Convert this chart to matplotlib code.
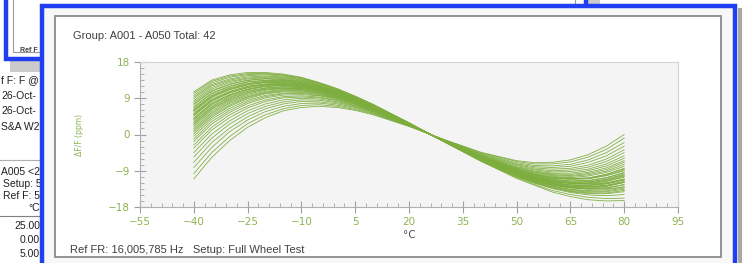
import matplotlib.pyplot as plt
from matplotlib.patches import Rectangle
from matplotlib.ticker import FixedLocator, AutoMinorLocator

# temperature points (deg C) shared by every part curve
temp_c = [-40, -35, -30, -25, -20, -15, -10, -5, 0, 5, 10, 20, 30, 40, 50, 55, 60, 65, 70, 75, 80]

# frequency deviation (ppm) of the 42 parts
ppm_curves = [
    [-11.0, -5.7, -1.5, 1.8, 4.2, 5.9, 6.7, 7.0, 6.7, 6.0, 4.9, 2.0, -1.3, -4.4, -6.5, -7.0, -6.9, -6.3, -5.0, -2.9, 0.0],
    [-9.7, -4.5, -0.5, 2.7, 4.9, 6.4, 7.2, 7.4, 7.0, 6.2, 5.1, 2.1, -1.4, -4.5, -6.7, -7.3, -7.3, -6.8, -5.6, -3.7, -0.9],
    [-8.2, -3.2, 0.7, 3.6, 5.7, 7.0, 7.7, 7.8, 7.3, 6.5, 5.3, 2.1, -1.4, -4.7, -7.0, -7.7, -7.8, -7.4, -6.3, -4.5, -2.0],
    [-6.9, -2.0, 1.6, 4.4, 6.4, 7.6, 8.2, 8.1, 7.6, 6.7, 5.4, 2.2, -1.5, -4.8, -7.3, -8.0, -8.2, -7.9, -6.9, -5.3, -2.9],
    [-5.6, -0.9, 2.6, 5.2, 7.0, 8.1, 8.6, 8.5, 7.9, 6.9, 5.6, 2.2, -1.5, -5.0, -7.5, -8.3, -8.6, -8.4, -7.6, -6.1, -3.8],
    [-4.5, 0.1, 3.4, 5.9, 7.6, 8.6, 9.0, 8.8, 8.1, 7.1, 5.7, 2.3, -1.5, -5.1, -7.7, -8.6, -9.0, -8.8, -8.1, -6.7, -4.5],
    [-3.4, 1.1, 4.2, 6.6, 8.2, 9.1, 9.3, 9.1, 8.4, 7.2, 5.8, 2.3, -1.5, -5.2, -8.0, -8.8, -9.3, -9.2, -8.6, -7.3, -5.3],
    [-2.6, 1.8, 4.9, 7.1, 8.6, 9.4, 9.6, 9.3, 8.5, 7.4, 5.9, 2.4, -1.6, -5.3, -8.1, -9.1, -9.6, -9.6, -9.0, -7.8, -5.9],
    [-1.7, 2.6, 5.5, 7.7, 9.1, 9.8, 9.9, 9.6, 8.7, 7.5, 6.0, 2.4, -1.6, -5.4, -8.3, -9.3, -9.8, -9.9, -9.4, -8.3, -6.5],
    [-1.1, 3.2, 6.0, 8.1, 9.4, 10.1, 10.2, 9.7, 8.9, 7.6, 6.1, 2.4, -1.6, -5.4, -8.4, -9.4, -10.0, -10.2, -9.7, -8.7, -6.9],
    [-0.4, 3.8, 6.5, 8.5, 9.7, 10.3, 10.4, 9.9, 9.0, 7.7, 6.2, 2.4, -1.6, -5.5, -8.5, -9.6, -10.2, -10.4, -10.0, -9.1, -7.4],
    [0.2, 4.3, 7.0, 8.9, 10.1, 10.6, 10.6, 10.1, 9.1, 7.8, 6.2, 2.5, -1.6, -5.5, -8.7, -9.8, -10.4, -10.7, -10.3, -9.4, -7.9],
    [0.7, 4.7, 7.3, 9.2, 10.3, 10.8, 10.8, 10.2, 9.2, 7.9, 6.3, 2.5, -1.6, -5.6, -8.7, -9.9, -10.6, -10.8, -10.9, -10.2, -9.0],
    [1.1, 5.1, 7.7, 9.4, 10.5, 11.0, 10.9, 10.3, 9.3, 8.0, 6.3, 2.5, -1.7, -5.6, -8.8, -10.0, -10.7, -11.0, -10.8, -9.9, -8.5],
    [1.5, 5.5, 8.0, 9.7, 10.7, 11.2, 11.1, 10.4, 9.4, 8.0, 6.4, 2.5, -1.7, -5.7, -8.9, -10.1, -10.9, -11.2, -11.0, -10.2, -8.8],
    [2.0, 5.9, 8.3, 10.0, 11.0, 11.4, 11.2, 10.6, 9.5, 8.1, 6.4, 2.5, -1.7, -5.7, -9.0, -10.0, -10.8, -11.0, -10.8, -9.9, -8.4],
    [2.4, 6.3, 8.6, 10.3, 11.2, 11.5, 11.4, 10.7, 9.6, 8.2, 6.5, 2.6, -1.7, -5.8, -9.1, -10.3, -11.1, -11.5, -11.4, -10.7, -9.4],
    [2.6, 6.5, 8.8, 10.4, 11.3, 11.6, 11.4, 10.7, 9.6, 8.2, 6.5, 2.6, -1.7, -5.8, -9.1, -10.3, -11.2, -11.6, -11.5, -10.8, -9.5],
    [3.0, 6.8, 9.1, 10.7, 11.5, 11.8, 11.6, 10.9, 9.7, 8.3, 6.6, 2.6, -1.7, -5.8, -9.2, -10.5, -11.3, -11.8, -11.7, -11.1, -9.8],
    [3.3, 7.0, 9.3, 10.8, 11.6, 11.9, 11.7, 10.9, 9.8, 8.3, 6.6, 2.6, -1.7, -5.9, -9.2, -10.5, -11.4, -11.9, -11.8, -11.2, -10.0],
    [3.7, 7.4, 9.6, 11.1, 11.9, 12.1, 11.8, 11.0, 9.9, 8.4, 6.6, 2.6, -1.7, -5.9, -9.3, -10.6, -11.6, -12.1, -12.3, -12.0, -11.2],
    [3.9, 7.6, 9.8, 11.2, 12.0, 12.2, 11.9, 11.1, 9.9, 8.4, 6.7, 2.6, -1.7, -5.9, -9.4, -10.7, -11.6, -12.1, -12.1, -11.6, -10.4],
    [4.1, 7.8, 9.9, 11.3, 12.1, 12.3, 12.0, 11.1, 10.0, 8.5, 6.7, 2.6, -1.7, -5.9, -9.4, -10.7, -11.7, -12.2, -12.2, -11.7, -10.6],
    [4.6, 8.2, 10.3, 11.6, 12.3, 12.5, 12.1, 11.3, 10.1, 8.5, 6.7, 2.6, -1.7, -6.0, -9.5, -10.8, -11.7, -12.0, -12.0, -11.4, -10.2],
    [4.8, 8.4, 10.4, 11.7, 12.4, 12.5, 12.2, 11.3, 10.1, 8.6, 6.8, 2.7, -1.7, -6.0, -9.5, -10.9, -11.9, -12.5, -12.5, -12.1, -11.0],
    [5.0, 8.6, 10.6, 11.9, 12.5, 12.6, 12.3, 11.4, 10.2, 8.6, 6.8, 2.7, -1.8, -6.0, -9.6, -10.9, -11.9, -12.5, -12.6, -12.2, -11.2],
    [5.2, 8.8, 10.7, 12.0, 12.6, 12.7, 12.3, 11.4, 10.2, 8.6, 6.8, 2.7, -1.8, -6.1, -9.6, -11.0, -12.0, -12.6, -12.7, -12.3, -11.3],
    [5.6, 9.2, 11.1, 12.3, 12.9, 12.9, 12.5, 11.6, 10.3, 8.7, 6.9, 2.7, -1.8, -6.1, -9.7, -11.1, -12.1, -12.8, -12.9, -12.6, -11.6],
    [5.9, 9.4, 11.2, 12.4, 13.0, 13.0, 12.6, 11.6, 10.3, 8.8, 6.9, 2.7, -1.8, -6.1, -9.7, -11.2, -12.2, -12.9, -13.0, -12.7, -11.8],
    [6.1, 9.6, 11.4, 12.6, 13.1, 13.1, 12.6, 11.7, 10.4, 8.8, 6.9, 2.7, -1.8, -6.1, -9.8, -11.2, -12.3, -13.0, -13.1, -12.8, -11.9],
    [6.3, 9.7, 11.6, 12.7, 13.2, 13.2, 12.7, 11.7, 10.4, 8.8, 6.9, 2.7, -1.8, -6.2, -9.8, -11.3, -12.5, -13.2, -13.6, -13.5, -13.0],
    [6.7, 10.1, 11.9, 13.0, 13.4, 13.4, 12.9, 11.9, 10.5, 8.9, 7.0, 2.7, -1.8, -6.2, -9.9, -11.4, -12.5, -13.2, -13.4, -13.2, -12.4],
    [6.9, 10.3, 12.0, 13.1, 13.5, 13.5, 12.9, 11.9, 10.6, 8.9, 7.0, 2.7, -1.8, -6.2, -9.9, -11.4, -12.6, -13.3, -13.5, -13.3, -12.5],
    [7.4, 10.7, 12.4, 13.4, 13.8, 13.6, 13.1, 12.0, 10.7, 9.0, 7.1, 2.8, -1.8, -6.3, -10.0, -11.4, -12.5, -13.1, -13.3, -12.9, -11.9],
    [7.6, 10.9, 12.5, 13.5, 13.9, 13.7, 13.2, 12.1, 10.7, 9.0, 7.1, 2.8, -1.8, -6.3, -10.1, -11.6, -12.8, -13.6, -13.9, -13.7, -13.0],
    [8.0, 11.3, 12.9, 13.8, 14.1, 13.9, 13.3, 12.2, 10.8, 9.1, 7.2, 2.8, -1.8, -6.3, -10.2, -11.7, -12.9, -13.7, -14.1, -14.0, -13.3],
    [8.4, 11.7, 13.2, 14.0, 14.3, 14.1, 13.5, 12.3, 10.9, 9.2, 7.2, 2.8, -1.8, -6.4, -10.2, -11.8, -13.0, -13.9, -14.3, -14.2, -13.6],
    [8.9, 12.1, 13.5, 14.3, 14.5, 14.3, 13.6, 12.5, 11.0, 9.2, 7.3, 2.8, -1.9, -6.4, -10.3, -11.9, -13.2, -14.1, -14.5, -14.5, -13.9],
    [9.3, 12.4, 13.8, 14.6, 14.8, 14.5, 13.8, 12.6, 11.1, 9.3, 7.3, 2.8, -1.9, -6.5, -10.4, -12.0, -13.3, -14.2, -14.7, -14.7, -14.2],
    [9.7, 12.8, 14.2, 14.9, 15.0, 14.7, 13.9, 12.7, 11.2, 9.4, 7.4, 2.9, -1.9, -6.5, -10.5, -12.1, -13.4, -14.4, -15.0, -15.2, -14.9],
    [10.2, 13.2, 14.5, 15.1, 15.2, 14.8, 14.1, 12.8, 11.3, 9.5, 7.4, 2.9, -1.9, -6.6, -10.7, -12.4, -13.9, -14.9, -15.6, -15.9, -15.8],
    [10.6, 13.5, 14.8, 15.4, 15.4, 15.0, 14.2, 12.9, 11.4, 9.5, 7.5, 2.9, -1.9, -6.6, -10.9, -12.6, -14.3, -15.4, -16.2, -16.5, -16.4],
]

x_ticks = [-55, -40, -25, -10, 5, 20, 35, 50, 65, 80, 95]
y_ticks = [-18, -9, 0, 9, 18]

title = "Group: A001 - A050 Total: 42"
footer = "Ref FR: 16,005,785 Hz   Setup: Full Wheel Test"
# visible bits of the table lying behind the main window
side_lines = [("f F: F @", 1, 80), ("26-Oct-", 1, 96), ("26-Oct-", 1, 111),
              ("S&A W2", 1, 127), ("A005 <2", 1, 172), ("Setup: 5", 3, 184),
              ("Ref F: 5", 3, 196)]
side_numbers = [("\u00b0C", 208), ("25.00", 226), ("0.00", 240), ("5.00", 254)]

W, H = 742, 263
BLUE = "#1f3ff0"
GREEN = "#7cad3d"
LABEL_GREEN = "#8db352"


def fx(x):
    return x / W


def fy(y):
    return 1 - y / H


def box(x0, y0, x1, y1, **kw):
    # rectangle given in screen pixels (y downwards)
    r = Rectangle((fx(x0), fy(y1)), fx(x1) - fx(x0), fy(y0) - fy(y1),
                  transform=fig.transFigure, **kw)
    fig.add_artist(r)
    return r


fig = plt.figure(figsize=(W / 100, H / 100), dpi=100)
fig.patch.set_facecolor("white")

# window lying behind (top-left) and its shadow
box(10, -10, 600, 72, facecolor="#8c8c8c", edgecolor="none", alpha=0.45, zorder=0.5)
box(6, -10, 586, 59, facecolor="white", edgecolor=BLUE, lw=3.2, zorder=1)
box(13, -10, 575, 52, facecolor="white", edgecolor="#9a9a9a", lw=0.8, zorder=1.1)
fig.text(fx(20), fy(50), "Ref F", fontsize=5, color="#404040", fontweight="bold",
         family="Liberation Sans", va="center", zorder=1.2)

for s, x, y in side_lines:
    fig.text(fx(x), fy(y), s, fontsize=7.5, color="#202020",
             family="Liberation Sans", va="center", zorder=2)
for s, y in side_numbers:
    fig.text(fx(40), fy(y), s, fontsize=7.5, color="#202020",
             family="Liberation Sans", va="center", ha="right", zorder=2)
fig.add_artist(plt.Line2D([0, fx(42)], [fy(160), fy(160)], color="#b0b0b0", lw=0.8, zorder=2))
fig.add_artist(plt.Line2D([0, fx(42)], [fy(216), fy(216)], color="#808080", lw=0.8, zorder=2))

# main window with its chart panel
box(738, 8, 760, 280, facecolor="#a8a8a8", edgecolor="none", zorder=3)
box(42, 6, 735, 280, facecolor="#f7f7f7", edgecolor=BLUE, lw=3.2, zorder=4)
box(55, 16, 721, 257, facecolor="white", edgecolor="#8a8a8a", lw=1.3, zorder=5)

fig.text(fx(73), fy(36), title, fontsize=8, color="#404040",
         family="Liberation Sans", va="center", zorder=6)
fig.text(fx(70), fy(250), footer, fontsize=8, color="#404040",
         family="Liberation Sans", va="center", zorder=6)
fig.text(fx(80), fy(135), "\u0394F/F (ppm)", fontsize=5.5, color=LABEL_GREEN,
         rotation=90, ha="center", va="center", zorder=6)

ax = fig.add_axes([fx(140), fy(207), fx(678) - fx(140), fy(62) - fy(207)], zorder=10)
ax.set_facecolor("#f4f4f4")
for row in ppm_curves:
    ax.plot(temp_c, row, color=GREEN, lw=0.6, alpha=0.95, solid_joinstyle="round")

ax.set_xlim(-55, 95)
ax.set_ylim(-18, 18)
ax.xaxis.set_major_locator(FixedLocator(x_ticks))
ax.xaxis.set_minor_locator(AutoMinorLocator(5))
ax.yaxis.set_major_locator(FixedLocator(y_ticks))
ax.yaxis.set_minor_locator(AutoMinorLocator(6))
for sp in ax.spines.values():
    sp.set_color("#d4d4d4")
    sp.set_linewidth(0.8)
ax.spines["left"].set_color("#b0b0b0")
ax.spines["bottom"].set_color("#b0b0b0")
ax.tick_params(which="major", direction="inout", length=8, width=0.8, color="#a0a0a0",
               labelsize=7.5, labelcolor=LABEL_GREEN, pad=3)
ax.tick_params(which="minor", direction="in", length=3, width=0.7, color="#b0b0b0")
ax.set_xlabel("\u00b0C", fontsize=7.5, color="#505050", labelpad=2)

plt.savefig("out.png", dpi=100)
